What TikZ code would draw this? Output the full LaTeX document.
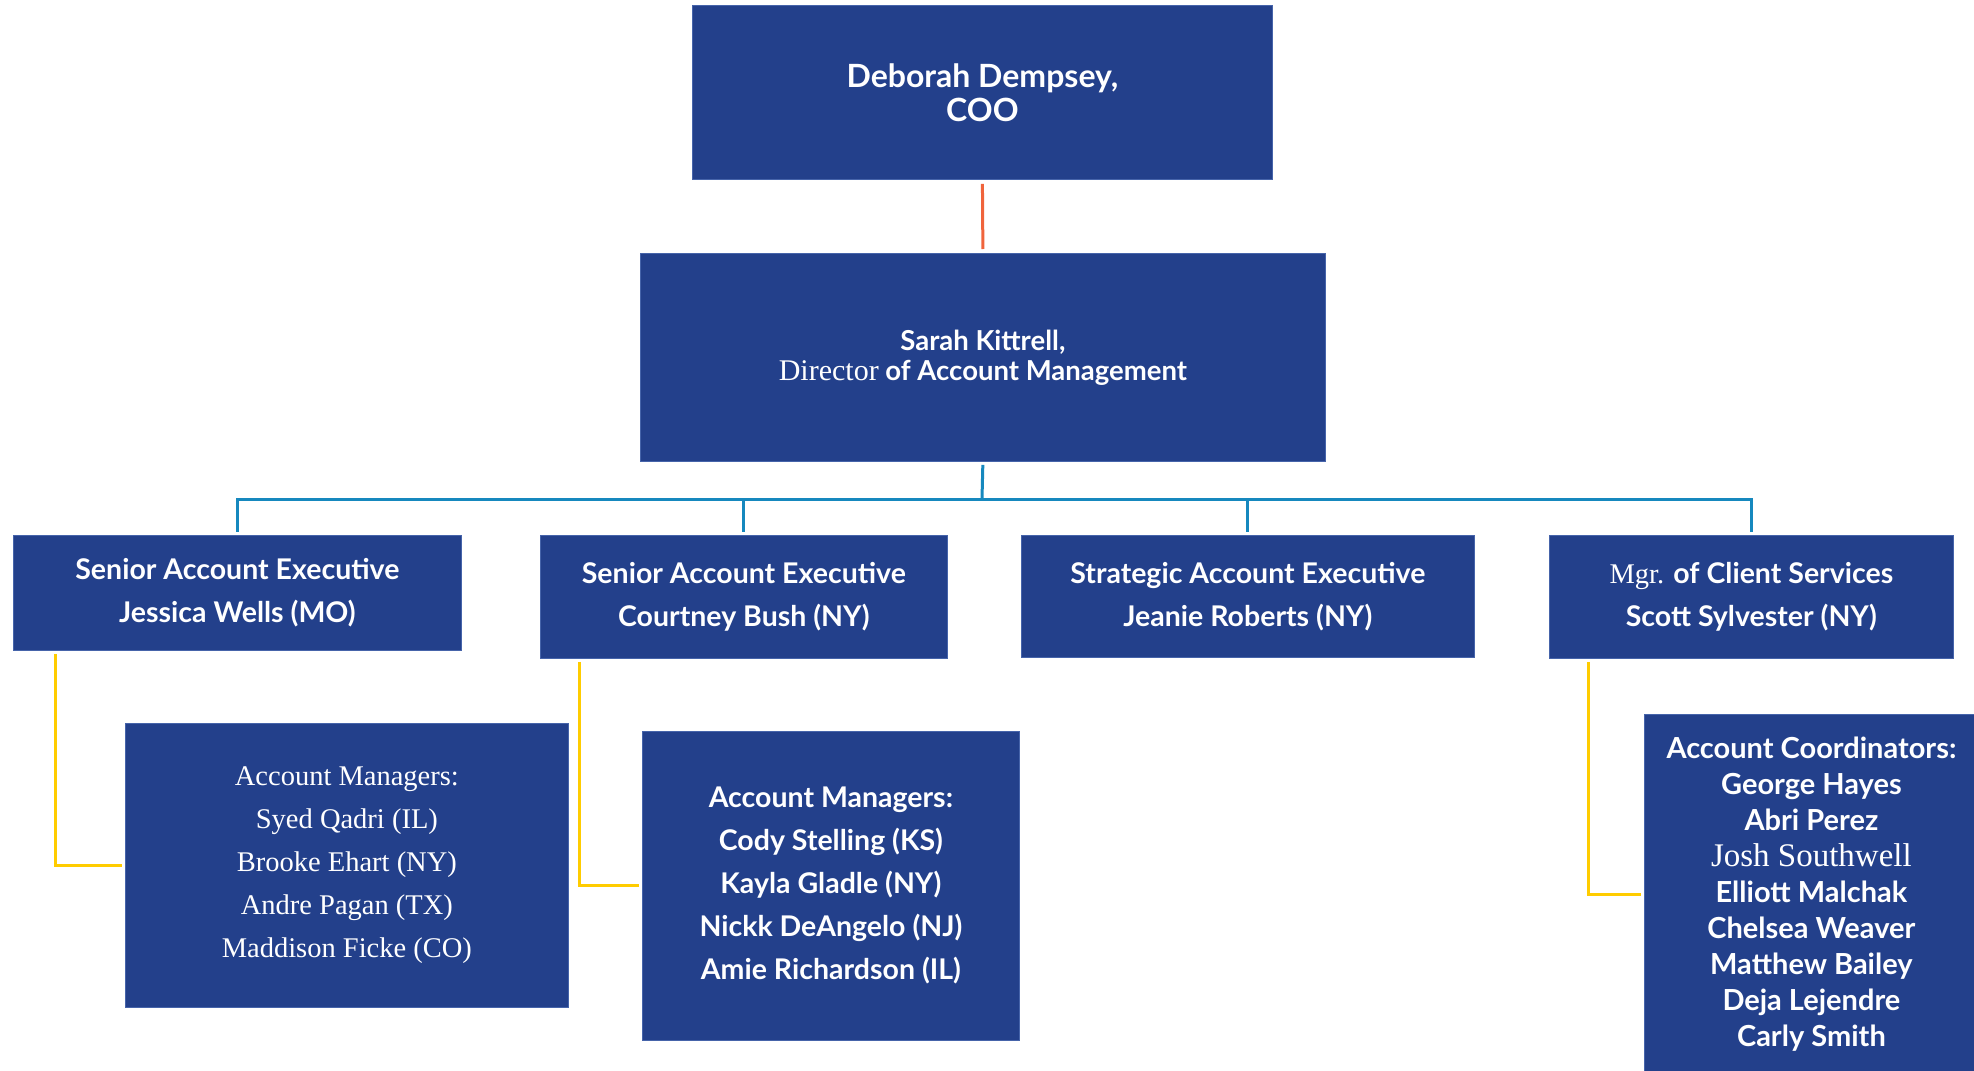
\documentclass[tikz,border=0pt]{standalone}
\usepackage{fontspec}
\setmainfont{Lato}
\newfontfamily\timesface{Liberation Serif}
\definecolor{boxblue}{RGB}{35,64,139}
\definecolor{edgeblue}{RGB}{70,100,170}
\definecolor{linkblue}{RGB}{22,136,190}
\definecolor{linkorange}{RGB}{240,100,60}
\definecolor{linkyellow}{RGB}{255,204,0}
\tikzset{
  orgbox/.style={draw=edgeblue, line width=0.8pt, fill=boxblue, text=white,
    anchor=north west, align=center, inner sep=0pt},
  orangelink/.style={linkorange, line width=3pt},
  bluelink/.style={linkblue, line width=3pt},
  yellowlink/.style={linkyellow, line width=3pt, shorten <=3pt, shorten >=3pt}
}
\begin{document}
\begin{tikzpicture}[x=1pt,y=-1pt]
  \useasboundingbox (0,0) rectangle (1974,1071);
  \node[orgbox, minimum width=580pt, minimum height=174pt,
    font=\bfseries\fontsize{32}{34}\selectfont] (coo) at (692,5) {Deborah Dempsey,\\COO};
  \node[orgbox, minimum width=685pt, minimum height=208pt,
    font=\bfseries\fontsize{27.5}{30}\selectfont] (dam) at (640,253)
    {Sarah Kittrell,\\{\timesface\mdseries\fontsize{30}{30}\selectfont Director} of Account Management};

  \node[orgbox, minimum width=448pt, minimum height=115pt,
    font=\bfseries\fontsize{28.5}{43}\selectfont] (saeWells) at (13,535)
    {Senior Account Executive\\Jessica Wells (MO)};
  \node[orgbox, minimum width=407pt, minimum height=123pt,
    font=\bfseries\fontsize{28.5}{43}\selectfont] (saeBush) at (540,535)
    {Senior Account Executive\\Courtney Bush (NY)};
  \node[orgbox, minimum width=453pt, minimum height=122pt,
    font=\bfseries\fontsize{28.5}{43}\selectfont] (saeRoberts) at (1021,535)
    {Strategic Account Executive\\Jeanie Roberts (NY)};
  \node[orgbox, minimum width=404pt, minimum height=123pt,
    font=\bfseries\fontsize{28.5}{43}\selectfont] (mgrServices) at (1549,535)
    {{\timesface\mdseries Mgr.} of Client Services\\Scott Sylvester (NY)};

  \node[orgbox, minimum width=443pt, minimum height=284pt,
    font=\timesface\fontsize{28.5}{43}\selectfont] (amWells) at (125,723)
    {Account Managers:\\Syed Qadri (IL)\\Brooke Ehart (NY)\\Andre Pagan (TX)\\Maddison Ficke (CO)};
  \node[orgbox, minimum width=377pt, minimum height=309pt,
    font=\bfseries\fontsize{28.5}{43}\selectfont] (amBush) at (642,731)
    {Account Managers:\\Cody Stelling (KS)\\Kayla Gladle (NY)\\Nickk DeAngelo (NJ)\\Amie Richardson (IL)};
  \node[orgbox, minimum width=334pt, minimum height=360pt,
    font=\bfseries\fontsize{29}{36}\selectfont] (acServices) at (1644,714)
    {Account Coordinators:\\George Hayes\\Abri Perez\\{\timesface\mdseries\fontsize{33}{36}\selectfont Josh Southwell}\\Elliott Malchak\\Chelsea Weaver\\Matthew Bailey\\Deja Lejendre\\Carly Smith};

  \draw[orangelink, shorten <=4pt, shorten >=4pt] (coo.south) -- (dam.north);
  \coordinate (bus) at (982,499);
  \draw[bluelink, shorten <=3pt] (dam.south) -- (bus);
  \foreach \n in {saeWells,saeBush,saeRoberts,mgrServices}
    \draw[bluelink, shorten >=3pt] (bus) -| (\n.north);

  \draw[yellowlink] ([xshift=42pt]saeWells.south west) |- (amWells.west);
  \draw[yellowlink] ([xshift=39pt]saeBush.south west) |- (amBush.west);
  \draw[yellowlink] ([xshift=39pt]mgrServices.south west) |- (acServices.west);
\end{tikzpicture}
\end{document}
